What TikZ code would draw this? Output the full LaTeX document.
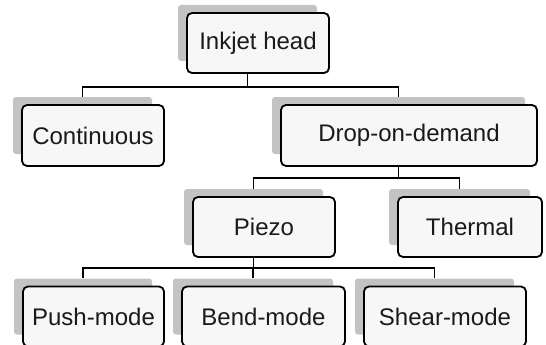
\documentclass[tikz,border=0pt]{standalone}
\usepackage{fontspec}
\setmainfont{Liberation Sans}
\usetikzlibrary{backgrounds}
\definecolor{shadowgray}{HTML}{C3C3C3}
\definecolor{boxfill}{HTML}{F7F7F7}
\definecolor{txt}{HTML}{1A1A1A}
\begin{document}
\begin{tikzpicture}[x=1pt,y=-1pt,
  box/.style={draw=black, line width=1.8pt, rounded corners=5pt, fill=boxfill, text=txt,
              font=\fontsize{24}{28}\selectfont, inner sep=0pt, minimum height=60pt},
  shad/.style={fill=shadowgray, rounded corners=3pt, inner sep=0pt},
  link/.style={draw=black, line width=1.5pt}]
\useasboundingbox (0,0) rectangle (546,345);
\node[box, minimum width=142pt] (head) at (258,43) {Inkjet head};
\node[box, minimum width=142pt, minimum height=61pt] (cont) at (93,135.5) {Continuous};
\node[box, minimum width=256pt, minimum height=61pt] (dod) at (409,135.5) {Drop-on-demand};
\node[box, minimum width=142pt] (piezo) at (264,227) {Piezo};
\node[box, minimum width=144pt] (therm) at (470,227) {Thermal};
\node[box, minimum width=141pt] (push) at (93.5,316.5) {Push-mode};
\node[box, minimum width=163pt] (bend) at (263.5,316.5) {Bend-mode};
\node[box, minimum width=162pt] (shear) at (445,316.5) {Shear-mode};
\begin{scope}[on background layer]
  \foreach \n/\w/\h in {head/142/60, cont/142/61, dod/256/61, piezo/142/60, therm/144/60,
                        push/141/60, bend/163/60, shear/162/60} {
    \pgfmathsetmacro\sw{\w-3}
    \pgfmathsetmacro\sh{\h-4}
    \node[shad, minimum width=\sw pt, minimum height=\sh pt] (\n S) at ([shift={(-10.5,-10)}]\n.center) {};
  }
  \coordinate (r1) at (0,87);
  \coordinate (r2) at (0,178);
  \coordinate (r3) at (0,268);
  \draw[link] (headS.south) -- (headS.south |- r1) -| (contS.north);
  \draw[link] (headS.south |- r1) -| (dodS.north);
  \draw[link] (dodS.south) -- (dodS.south |- r2) -| (piezoS.north);
  \draw[link] (dodS.south |- r2) -| (thermS.north);
  \draw[link] (piezoS.south) -- (piezoS.south |- r3) -| (pushS.north);
  \draw[link] (piezoS.south |- r3) -| (bendS.north);
  \draw[link] (piezoS.south |- r3) -| (shearS.north);
\end{scope}
\end{tikzpicture}
\end{document}
